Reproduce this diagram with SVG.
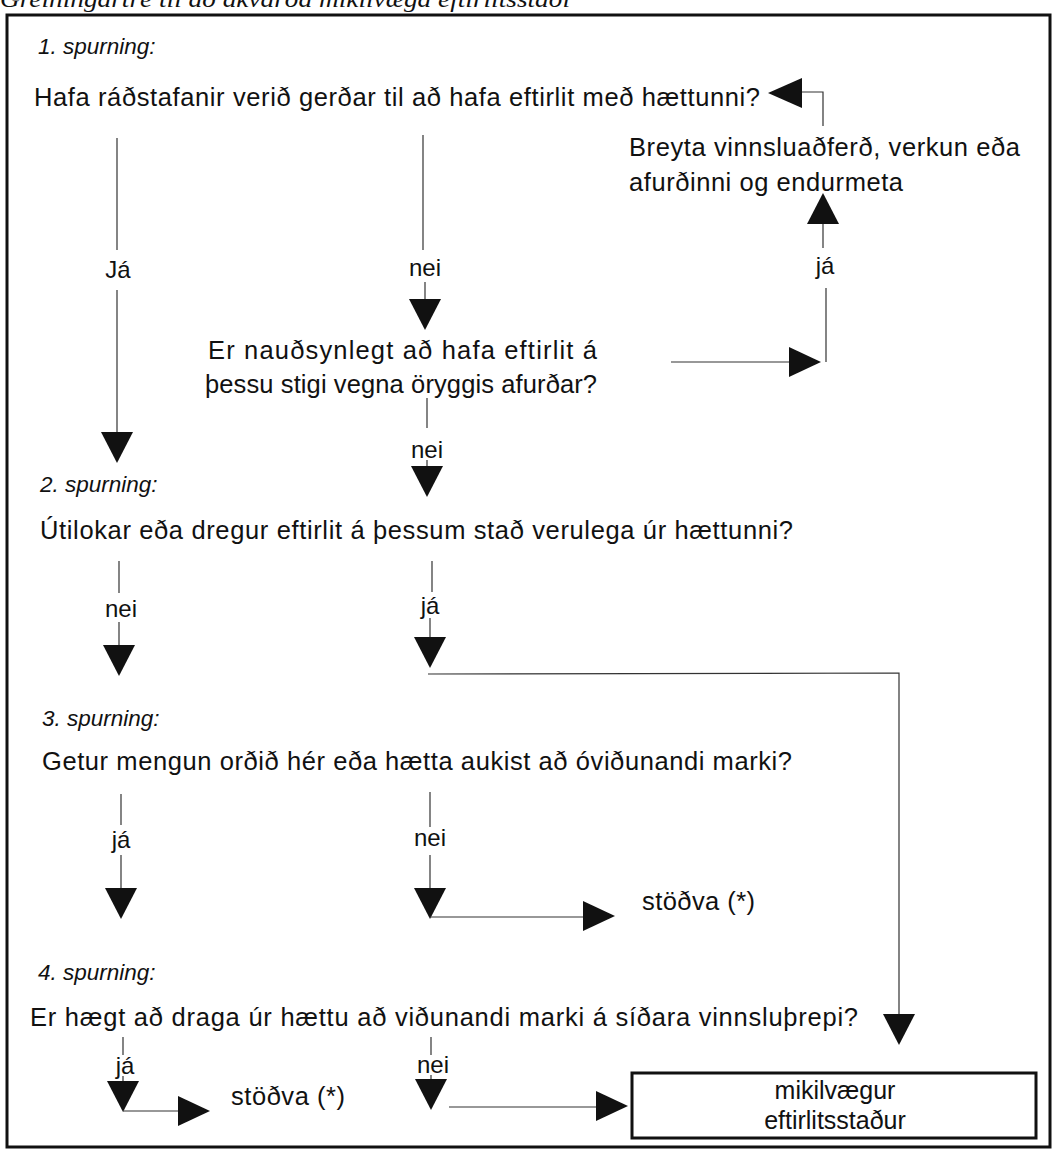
<svg xmlns="http://www.w3.org/2000/svg" xmlns:xlink="http://www.w3.org/1999/xlink" width="1057" height="1151" viewBox="0 0 1057 1151">
<style>
  text { font-family: "Liberation Sans", Arial, sans-serif; fill: #111; }
  .q { font-size: 25.5px; }
  .sp { font-size: 22.5px; font-style: italic; }
  .lbl { font-size: 24px; text-anchor: middle; }
  .ccp { font-size: 25px; text-anchor: middle; }
  .title { font-family: "Liberation Serif", "Times New Roman", serif; font-size: 24px; font-style: italic; }
  .ln { stroke: #333; stroke-width: 1.2; fill: none; }
  .frame { stroke: #111; stroke-width: 3; fill: none; }
  .box { stroke: #111; stroke-width: 3; fill: #fff; }
  .ah { fill: #111; }
</style>
<defs>
  <path id="down" class="ah" d="M-16,-31 L16,-31 L0,0 Z"/>
  <path id="up" class="ah" d="M-16,31 L16,31 L0,0 Z"/>
  <path id="right" class="ah" d="M-32,-15 L-32,15 L0,0 Z"/>
  <path id="left" class="ah" d="M34,-15 L34,15 L0,0 Z"/>
</defs>
<rect width="1057" height="1151" fill="#fff"/>
<text class="title" x="0" y="7" textLength="570" lengthAdjust="spacingAndGlyphs">Greiningartré til að ákvarða mikilvæga eftirlitsstaði</text>
<rect class="frame" x="7" y="15" width="1043" height="1132"/>

<g id="connectors">
  <!-- Q1 yes -->
  <line class="ln" x1="117" y1="138" x2="117" y2="250"/>
  <line class="ln" x1="117" y1="290" x2="117" y2="433"/>
  <use xlink:href="#down" x="117" y="463"/>
  <!-- Q1 no -->
  <line class="ln" x1="423" y1="135" x2="423" y2="250"/>
  <line class="ln" x1="425" y1="282" x2="425" y2="300"/>
  <use xlink:href="#down" x="425" y="330"/>
  <!-- Er nauðsynlegt yes -->
  <line class="ln" x1="671" y1="362" x2="790" y2="362"/>
  <use xlink:href="#right" x="821" y="362"/>
  <line class="ln" x1="826" y1="362" x2="826" y2="288"/>
  <line class="ln" x1="823" y1="248" x2="823" y2="224"/>
  <use xlink:href="#up" x="823" y="193"/>
  <!-- Breyta back to Q1 -->
  <polyline class="ln" points="823,126 823,92 801,92"/>
  <use xlink:href="#left" x="768" y="93"/>
  <!-- Er nauðsynlegt no -->
  <line class="ln" x1="427" y1="398" x2="427" y2="428"/>
  <line class="ln" x1="427" y1="460" x2="427" y2="467"/>
  <use xlink:href="#down" x="427" y="497"/>
  <!-- Q2 no -->
  <line class="ln" x1="119" y1="561" x2="119" y2="593"/>
  <line class="ln" x1="119" y1="622" x2="119" y2="646"/>
  <use xlink:href="#down" x="119" y="676"/>
  <!-- Q2 yes -->
  <line class="ln" x1="432" y1="561" x2="432" y2="592"/>
  <line class="ln" x1="430" y1="618" x2="430" y2="638"/>
  <use xlink:href="#down" x="430" y="668"/>
  <polyline class="ln" points="428,674 899,673 899,1015"/>
  <use xlink:href="#down" x="899" y="1045"/>
  <!-- Q3 yes -->
  <line class="ln" x1="121" y1="794" x2="121" y2="825"/>
  <line class="ln" x1="121" y1="855" x2="121" y2="889"/>
  <use xlink:href="#down" x="121" y="919"/>
  <!-- Q3 no -->
  <line class="ln" x1="430" y1="792" x2="430" y2="827"/>
  <line class="ln" x1="430" y1="855" x2="430" y2="889"/>
  <use xlink:href="#down" x="430" y="919"/>
  <line class="ln" x1="430" y1="917" x2="584" y2="917"/>
  <use xlink:href="#right" x="615" y="916"/>
  <!-- Q4 yes -->
  <line class="ln" x1="123" y1="1037" x2="123" y2="1055"/>
  <line class="ln" x1="123" y1="1076" x2="123" y2="1082"/>
  <use xlink:href="#down" x="123" y="1112"/>
  <line class="ln" x1="123" y1="1111" x2="179" y2="1111"/>
  <use xlink:href="#right" x="210" y="1111"/>
  <!-- Q4 no -->
  <line class="ln" x1="431" y1="1037" x2="431" y2="1055"/>
  <line class="ln" x1="431" y1="1075" x2="431" y2="1080"/>
  <use xlink:href="#down" x="431" y="1110"/>
  <line class="ln" x1="449" y1="1107" x2="596" y2="1107"/>
  <use xlink:href="#right" x="628" y="1106"/>
</g>

<g id="labels">
  <text class="lbl" x="118" y="278">Já</text>
  <text class="lbl" x="425" y="276">nei</text>
  <text class="lbl" x="825" y="274">já</text>
  <text class="lbl" x="427" y="458">nei</text>
  <text class="lbl" x="121" y="617">nei</text>
  <text class="lbl" x="430" y="614">já</text>
  <text class="lbl" x="121" y="848">já</text>
  <text class="lbl" x="430" y="846">nei</text>
  <text class="lbl" x="125" y="1074">já</text>
  <text class="lbl" x="433" y="1073">nei</text>
</g>

<g id="q1">
  <text class="sp" x="38" y="54">1. spurning:</text>
  <text class="q" x="34" y="106" textLength="726" lengthAdjust="spacing">Hafa ráðstafanir verið gerðar til að hafa eftirlit með hættunni?</text>
</g>
<g id="breyta">
  <text class="q" x="629" y="156" textLength="391" lengthAdjust="spacing">Breyta vinnsluaðferð, verkun eða</text>
  <text class="q" x="629" y="191" textLength="274" lengthAdjust="spacing">afurðinni og endurmeta</text>
</g>
<g id="naudsynlegt">
  <text class="q" x="208" y="359" textLength="389" lengthAdjust="spacing">Er nauðsynlegt að hafa eftirlit á</text>
  <text class="q" x="205" y="393" textLength="392" lengthAdjust="spacing">þessu stigi vegna öryggis afurðar?</text>
</g>
<g id="q2">
  <text class="sp" x="40" y="492">2. spurning:</text>
  <text class="q" x="40" y="539" textLength="753" lengthAdjust="spacing">Útilokar eða dregur eftirlit á þessum stað verulega úr hættunni?</text>
</g>
<g id="q3">
  <text class="sp" x="42" y="726">3. spurning:</text>
  <text class="q" x="42" y="770" textLength="750" lengthAdjust="spacing">Getur mengun orðið hér eða hætta aukist að óviðunandi marki?</text>
</g>
<g id="stodva1">
  <text class="q" x="642" y="910" textLength="113" lengthAdjust="spacing">stöðva (*)</text>
</g>
<g id="q4">
  <text class="sp" x="38" y="980">4. spurning:</text>
  <text class="q" x="30" y="1026" textLength="828" lengthAdjust="spacing">Er hægt að draga úr hættu að viðunandi marki á síðara vinnsluþrepi?</text>
</g>
<g id="stodva2">
  <text class="q" x="231" y="1105" textLength="114" lengthAdjust="spacing">stöðva (*)</text>
</g>
<g id="ccp">
  <rect class="box" x="632" y="1073" width="404" height="65"/>
  <text class="ccp" x="835" y="1099">mikilvægur</text>
  <text class="ccp" x="835" y="1129">eftirlitsstaður</text>
</g>
</svg>
